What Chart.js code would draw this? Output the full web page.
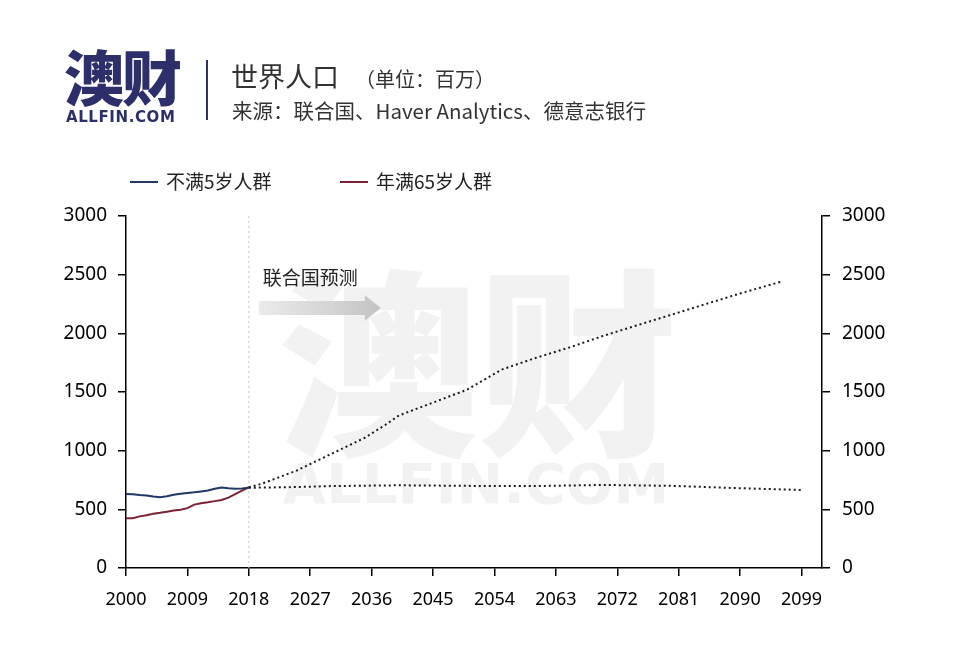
<!DOCTYPE html>
<html lang="zh">
<head>
<meta charset="UTF-8">
<title>世界人口</title>
<script src="https://cdn.jsdelivr.net/npm/chart.js"></script>
<style>
  body { margin: 0; background: #fff; font-family: "Noto Sans CJK SC", "Noto Sans", sans-serif; }
  #wrap { position: relative; width: 960px; height: 660px; overflow: hidden; }
  #chart { position: absolute; left: 0; top: 0; }
  .abs { position: absolute; white-space: nowrap; }
  .logo { left: 64px; top: 45px; font-size: 60px; font-weight: 900; color: #2c2f6a; letter-spacing: -2px; line-height: 1; }
  .logo-en { left: 66px; top: 108px; font-family: "DejaVu Sans", sans-serif; font-size: 15px; font-weight: bold; color: #2c2f6a; letter-spacing: 0.6px; }
  .sep { left: 206px; top: 60px; width: 2px; height: 60px; background: #2c2f6a; }
  .title { left: 231px; top: 56px; font-size: 27px; color: #333; }
  .title small { font-size: 20px; margin-left: 16px; }
  .sub { left: 232px; top: 95px; font-size: 20.5px; color: #333; }
  .legend { top: 167px; font-size: 19px; color: #222; }
  .legend i { display: inline-block; width: 28px; height: 2px; vertical-align: middle; margin-right: 8px; position: relative; top: -2px; }
</style>
</head>
<body>
<div id="wrap">
  <canvas id="chart" width="960" height="660"></canvas>
  <div class="abs logo">澳财</div>
  <div class="abs logo-en">ALLFIN.COM</div>
  <div class="abs sep"></div>
  <div class="abs title">世界人口<small>（单位：百万）</small></div>
  <div class="abs sub">来源：联合国、Haver Analytics、德意志银行</div>
  <div class="abs legend" style="left:130px"><i style="background:#1f3864"></i>不满5岁人群</div>
  <div class="abs legend" style="left:340px"><i style="background:#7b2335"></i>年满65岁人群</div>
</div>
<script>
// historical, 2000-2018
const histYears = [2000, 2001, 2002, 2003, 2004, 2005, 2006, 2007, 2008, 2009, 2010, 2011, 2012, 2013, 2014, 2015, 2016, 2017, 2018];
const under5Hist = [631, 628, 622, 618, 610, 604, 612, 624, 633, 640, 645, 652, 660, 676, 686, 680, 676, 678, 684];
const over65Hist = [424, 425, 440, 450, 462, 470, 480, 490, 497, 510, 540, 552, 560, 570, 580, 600, 630, 660, 688];

// UN projection
const under5ProjYears = [2018, 2025, 2030, 2040, 2050, 2060, 2070, 2080, 2090, 2099];
const under5Proj = [684, 690, 698, 705, 700, 698, 708, 700, 680, 665];
const over65ProjYears = [2018, 2020, 2025, 2030, 2035, 2038, 2040, 2045, 2050, 2055, 2060, 2065, 2070, 2075, 2080, 2085, 2090, 2096];
const over65Proj = [688, 720, 830, 970, 1110, 1220, 1300, 1410, 1520, 1690, 1790, 1880, 1980, 2070, 2160, 2250, 2340, 2440];

const xTicks = [2000, 2009, 2018, 2027, 2036, 2045, 2054, 2063, 2072, 2081, 2090, 2099];
const yTicks = [0, 500, 1000, 1500, 2000, 2500, 3000];
const splitYear = 2018;

const pts = (xs, ys) => xs.map((x, i) => ({ x: x, y: ys[i] }));

const decor = {
  id: 'decor',
  beforeDatasetsDraw(chart) {
    const { ctx, chartArea: a, scales } = chart;
    ctx.save();
    // watermark
    ctx.fillStyle = '#f2f2f2';
    ctx.textAlign = 'center';
    ctx.textBaseline = 'alphabetic';
    ctx.font = '900 200px "Noto Sans CJK SC"';
    ctx.fillText('澳财', 478, 440);
    ctx.font = 'bold 56px "DejaVu Sans"';
    ctx.fillText('ALLFIN.COM', 476, 503);
    // divider at forecast start
    const sx = scales.x.getPixelForValue(splitYear);
    ctx.strokeStyle = '#c8c8c8';
    ctx.lineWidth = 1;
    ctx.setLineDash([2, 3]);
    ctx.beginPath();
    ctx.moveTo(sx, a.top);
    ctx.lineTo(sx, a.bottom);
    ctx.stroke();
    ctx.setLineDash([]);
    // arrow
    const x0 = sx + 10, x1 = x0 + 106, x2 = x0 + 122, ym = 308;
    const g = ctx.createLinearGradient(x0, 0, x2, 0);
    g.addColorStop(0, '#ebebeb');
    g.addColorStop(1, '#c4c4c4');
    ctx.fillStyle = g;
    ctx.beginPath();
    ctx.moveTo(x0, ym - 7);
    ctx.lineTo(x1, ym - 7);
    ctx.lineTo(x1, ym - 13);
    ctx.lineTo(x2, ym);
    ctx.lineTo(x1, ym + 13);
    ctx.lineTo(x1, ym + 7);
    ctx.lineTo(x0, ym + 7);
    ctx.closePath();
    ctx.fill();
    ctx.fillStyle = '#222';
    ctx.textAlign = 'left';
    ctx.font = '19px "Noto Sans CJK SC"';
    ctx.fillText('联合国预测', sx + 14, 285);
    ctx.restore();
  }
};

new Chart(document.getElementById('chart'), {
  type: 'line',
  data: {
    datasets: [
      { label: '不满5岁人群', data: pts(histYears, under5Hist), borderColor: '#1f3864', borderWidth: 2 },
      { label: '年满65岁人群', data: pts(histYears, over65Hist), borderColor: '#7b2335', borderWidth: 2 },
      { label: 'proj5', data: pts(under5ProjYears, under5Proj), borderColor: '#1a1a1a', borderWidth: 2, borderDash: [2, 3] },
      { label: 'proj65', data: pts(over65ProjYears, over65Proj), borderColor: '#1a1a1a', borderWidth: 2, borderDash: [2, 3] }
    ]
  },
  options: {
    responsive: false,
    animation: false,
    elements: { point: { radius: 0 }, line: { tension: 0 } },
    layout: { padding: { top: 216, left: 0, right: 0, bottom: 0 } },
    plugins: { legend: { display: false }, tooltip: { enabled: false } },
    scales: {
      x: {
        type: 'linear', min: 2000, max: 2102,
        afterFit(s) { s.height = 92; },
        afterBuildTicks(s) { s.ticks = xTicks.map(v => ({ value: v })); },
        grid: { drawOnChartArea: false, tickLength: 8, color: '#000', lineWidth: 1.5 },
        border: { color: '#000', width: 1.5 },
        ticks: { color: '#000', padding: 13, maxRotation: 0, autoSkip: false, font: { family: 'Noto Sans', size: 18 }, callback: v => String(v) }
      },
      y: {
        position: 'left', min: 0, max: 3000,
        afterFit(s) { s.width = 126; },
        afterBuildTicks(s) { s.ticks = yTicks.map(v => ({ value: v })); },
        grid: { drawOnChartArea: false, tickLength: 8, color: '#000', lineWidth: 1.5 },
        border: { color: '#000', width: 1.5 },
        ticks: { color: '#000', padding: 11, font: { family: 'Noto Sans', size: 19 }, callback: v => String(v) }
      },
      y2: {
        position: 'right', min: 0, max: 3000,
        afterFit(s) { s.width = 138; },
        afterBuildTicks(s) { s.ticks = yTicks.map(v => ({ value: v })); },
        grid: { drawOnChartArea: false, tickLength: 8, color: '#000', lineWidth: 1.5 },
        border: { color: '#000', width: 1.5 },
        ticks: { color: '#000', padding: 12, font: { family: 'Noto Sans', size: 19 }, callback: v => String(v) }
      }
    }
  },
  plugins: [decor]
});
</script>
</body>
</html>
